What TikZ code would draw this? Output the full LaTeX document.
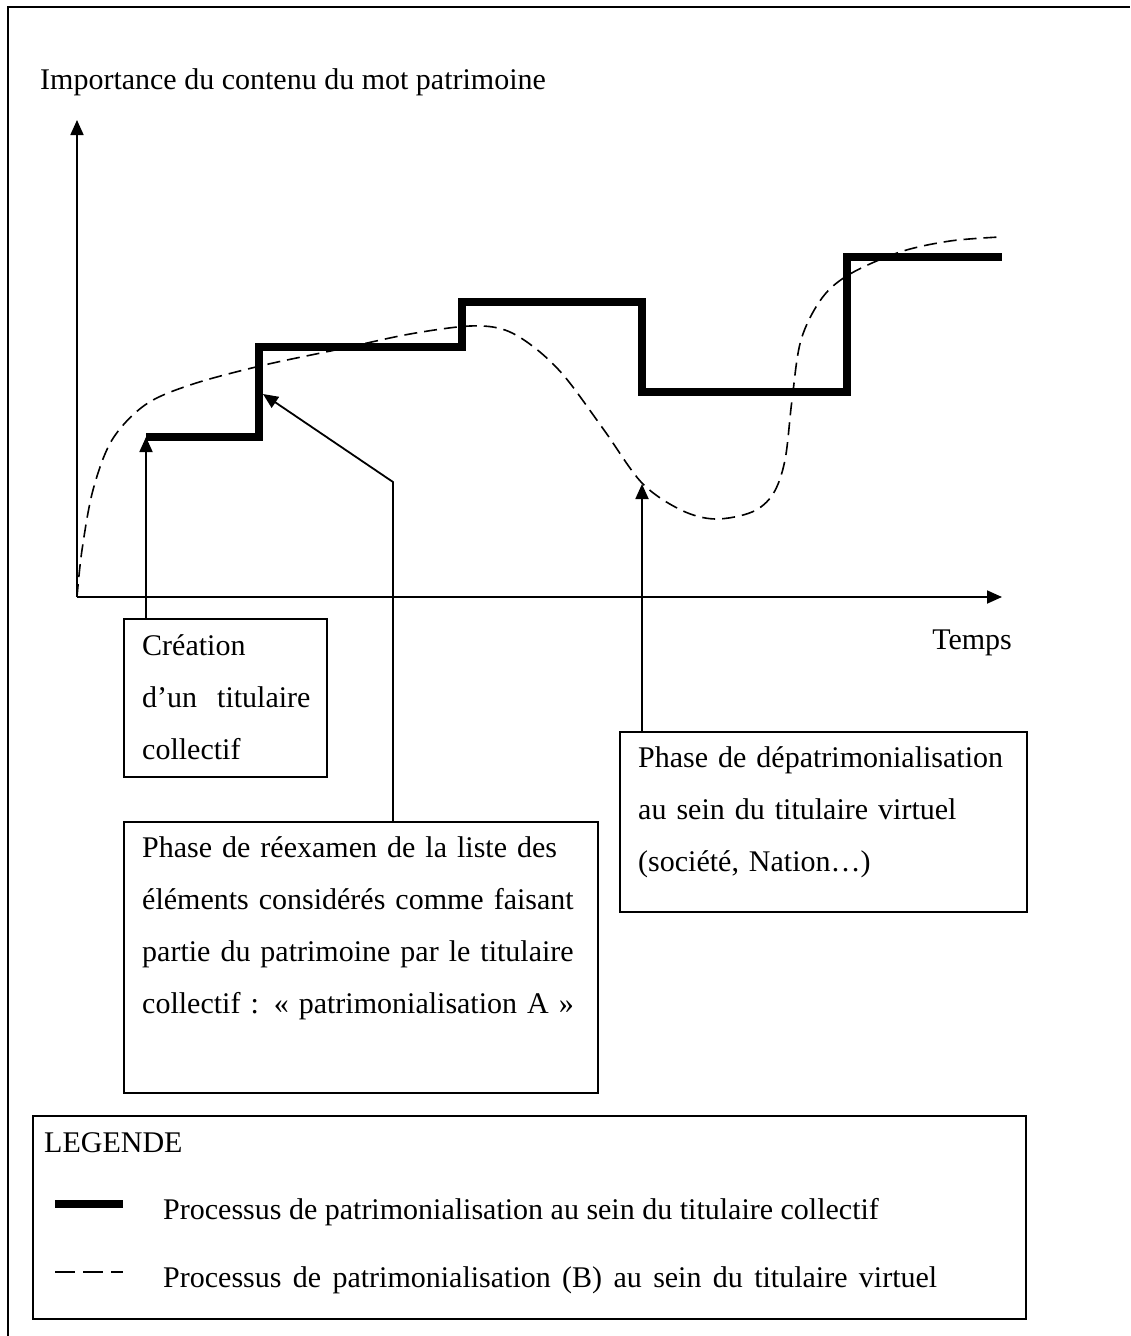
\documentclass[tikz,border=0pt]{standalone}
\usepackage{fontspec}
\setmainfont{Liberation Serif}
\usetikzlibrary{arrows.meta}
\begin{document}
\begin{tikzpicture}[x=1pt,y=-1pt,
  thinline/.style={line width=1.8pt},
  arr/.style={thinline,-{Triangle[length=15pt,width=13pt]}},
  stepline/.style={line width=7.5pt},
  dashline/.style={line width=1.6pt,dash pattern=on 13pt off 7pt},
  box/.style={draw,line width=1.8pt,anchor=north west,inner sep=0pt},
  txt/.style={font=\fontsize{30}{52}\selectfont,inner sep=0pt,anchor=base west},
  para/.style={txt,align=left,text width=#1},
]
\useasboundingbox (0,0) rectangle (1130,1336);
% outer frame (left and top edges)
\draw[line width=2pt] (8,1336) -- (8,7) -- (1130,7);

% title and axes
\node[txt] (title) at (40,89) {Importance du contenu du mot patrimoine};
\coordinate (O) at (77,597);
\coordinate (ytip) at (77,120);
\coordinate (xtip) at (1002,597);
\draw[arr] (O) -- (ytip);
\draw[arr] (O) -- (xtip);
\node[txt,anchor=base east] (temps) at (1012,649) {Temps};

% dashed curve (B)
\draw[dashline] plot[smooth, tension=0.55] coordinates {(77,597) (82,550) (93,490) (112,440) (145,405) (190,385) (260,366) (340,349) (410,334) (470,326) (505,330) (535,348) (565,377) (604,430) (642,483) (681,510) (715,519) (752,512) (773,494) (785,460) (792,400) (801,340) (822,298) (850,274) (900,252) (950,241) (1000,237)};

% step curve
\draw[stepline] (146,437) -- (259,437) -- (259,347) -- (462,347) -- (462,302) -- (642,302) -- (642,392) -- (847,392) -- (847,257) -- (1002,257);

% boxes
\node[box,minimum width=203pt,minimum height=158pt] (b1) at (123,618) {};
\node[para=190pt] (t1) at (142,655) {Création\\d’un~~titulaire\\collectif};

\node[box,minimum width=474pt,minimum height=271pt] (b2) at (123,821) {};
\node[para=450pt] (t2) at (142,857) {Phase de réexamen de la liste des\\éléments considérés comme faisant\\partie du patrimoine par le titulaire\\collectif~: «~patrimonialisation A~»};

\node[box,minimum width=407pt,minimum height=180pt] (b3) at (619,731) {};
\node[para=385pt] (t3) at (638,767) {Phase de dépatrimonialisation\\au sein du titulaire virtuel\\(société, Nation…)};

% pointers
\coordinate (a1tip) at (146,437);
\draw[arr] (a1tip |- b1.north) -- (a1tip);
\coordinate (a2bend) at (393,482);
\coordinate (a2tip) at (263,394);
\draw[arr] (a2bend |- b2.north) -- (a2bend) -- (a2tip);
\coordinate (a3tip) at (642,484);
\draw[arr] (a3tip |- b3.north) -- (a3tip);

% legend
\node[box,minimum width=993pt,minimum height=203pt] (leg) at (32,1115) {};
\node[txt] (legtitle) at (44,1152) {LEGENDE};
\coordinate (l1a) at (55,1204);
\coordinate (l1b) at (123,1204);
\draw[stepline] (l1a) -- (l1b);
\node[txt] (leg1) at (163,1219) {Processus de patrimonialisation au sein du titulaire collectif};
\coordinate (l2a) at (55,1272);
\coordinate (l2b) at (123,1272);
\draw[thinline,dash pattern=on 20pt off 8pt] (l2a) -- (l2b);
\node[txt] (leg2) at (163,1287) {\makebox[774pt][s]{Processus de patrimonialisation (B) au sein du titulaire virtuel}};
\end{tikzpicture}
\end{document}
